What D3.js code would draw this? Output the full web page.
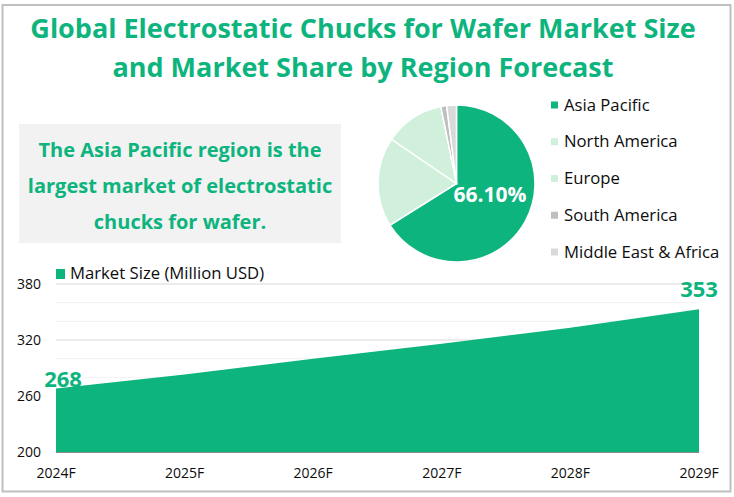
<!DOCTYPE html>
<html><head><meta charset="utf-8">
<script src="https://cdnjs.cloudflare.com/ajax/libs/d3/7.8.5/d3.min.js"></script>
<style>html,body{margin:0;padding:0;background:#fff}svg{display:block}text{font-family:"Open Sans","Noto Sans",sans-serif}</style>
</head><body><script>
const years=["2024F","2025F","2026F","2027F","2028F","2029F"];
const marketSize=[268,283,300,316,333,353];
const regions=["Asia Pacific","North America","Europe","South America","Middle East & Africa"];
const shares=[66.1,18.4,12.3,1.2,2.0];
const regionColors=["#0db47e","#d0f0dc","#d0f0dc","#bfbfbf","#d9d9d9"];
const titleLines=["Global Electrostatic Chucks for Wafer Market Size","and Market Share by Region Forecast"];
const noteLines=["The Asia Pacific region is the","largest market of electrostatic","chucks for wafer."];
const majorTicks=[200,260,320,380];
const gridTicks=[280,300,320,340,360,380];
const green="#0db47e";
const ink="#0d0d0d";
const svg=d3.select("body").append("svg").attr("width",734).attr("height",497);
svg.append("rect").attr("x",2.5).attr("y",5).attr("width",728).attr("height",486.5).attr("fill","#fff").attr("stroke","#bfbfbf").attr("stroke-width",2);
svg.selectAll(".t").data(titleLines).join("text").attr("x",363).attr("y",(d,i)=>38+i*39)
 .attr("text-anchor","middle").attr("font-size",27).attr("font-weight",700).attr("fill",green).text(d=>d);
svg.append("rect").attr("x",19).attr("y",124).attr("width",322).attr("height",119).attr("fill","#f2f2f2");
svg.selectAll(".n").data(noteLines).join("text").attr("x",180).attr("y",(d,i)=>157+i*36)
 .attr("text-anchor","middle").attr("font-size",20).attr("font-weight",700).attr("fill",green).text(d=>d);
// pie
const pieG=svg.append("g").attr("transform","translate(456.5,183.5)");
const arcs=d3.pie().sort(null)(shares);
const arc=d3.arc().innerRadius(0).outerRadius(78.5);
pieG.selectAll("path").data(arcs).join("path").attr("d",arc).attr("fill",(d,i)=>regionColors[i]).attr("stroke","#fff").attr("stroke-width",1.5);
pieG.append("text").attr("x",33.5).attr("y",18).attr("text-anchor","middle").attr("font-size",21).attr("font-weight",700).attr("fill","#fff").text(d3.format(".2f")(shares[0])+"%");
// pie legend
const legY=d3.scalePoint().domain(regions).range([105,252]);
const lg=svg.selectAll(".lg").data(regions).join("g").attr("transform",d=>`translate(0,${legY(d)})`);
lg.append("rect").attr("x",551).attr("y",-3.5).attr("width",7).attr("height",7).attr("fill",(d,i)=>regionColors[i]);
lg.append("text").attr("x",564).attr("y",5.5).attr("font-size",16.7).attr("fill",ink).text(d=>d);
// area
const x=d3.scalePoint().domain(years).range([56,699]);
const y=d3.scaleLinear().domain([200,380]).range([452,284]);
svg.selectAll(".g").data(gridTicks).join("line").attr("x1",56).attr("x2",699).attr("y1",d=>y(d)).attr("y2",d=>y(d))
 .attr("stroke",d=>majorTicks.includes(d)?"#d9d9d9":"#f2f2f2").attr("stroke-width",1);
const area=d3.area().x((d,i)=>x(years[i])).y0(y(200)).y1(d=>y(d));
svg.append("path").datum(marketSize).attr("d",area).attr("fill",green);
svg.append("line").attr("x1",56).attr("x2",699).attr("y1",y(200)+.5).attr("y2",y(200)+.5).attr("stroke","#8c8c8c").attr("stroke-width",1);
svg.selectAll(".yt").data(majorTicks).join("text").attr("x",41).attr("y",d=>y(d)+5).attr("text-anchor","end").attr("font-size",14).attr("fill",ink).text(d=>d);
svg.selectAll(".xt").data(years).join("text").attr("x",d=>x(d)).attr("y",478).attr("text-anchor","middle").attr("font-size",14).attr("fill",ink).text(d=>d);
svg.append("rect").attr("x",56).attr("y",269).attr("width",9).attr("height",10).attr("fill",green);
svg.append("text").attr("x",70).attr("y",279).attr("font-size",16.7).attr("fill",ink).text("Market Size (Million USD)");
svg.append("text").attr("x",x(years[0])+7).attr("y",y(marketSize[0])-2).attr("text-anchor","middle").attr("font-size",22).attr("font-weight",700).attr("fill",green).text(marketSize[0]);
svg.append("text").attr("x",x(years[5])).attr("y",y(marketSize[5])-12).attr("text-anchor","middle").attr("font-size",22).attr("font-weight",700).attr("fill",green).text(marketSize[5]);
</script></body></html>
